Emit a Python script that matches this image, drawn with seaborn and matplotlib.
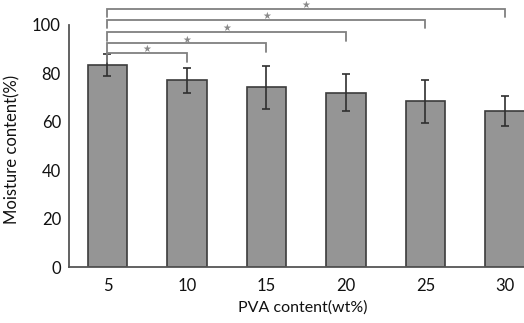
import matplotlib
matplotlib.use("Agg")
import matplotlib.pyplot as plt
import seaborn as sns
import pandas as pd

categories = ["5", "10", "15", "20", "25", "30"]
moisture = [83.5, 77.2, 74.3, 72.0, 68.4, 64.5]
errors = [4.5, 5.2, 8.9, 7.6, 8.9, 6.3]
sig_pairs = [(0, 1), (0, 2), (0, 3), (0, 4), (0, 5)]
sig_heights = [88.3, 92.4, 97.0, 102.1, 106.7]
sig_labels = ["★"] * 5

sns.set_theme(style="white")
plt.rcParams["font.family"] = ["Lato", "DejaVu Sans"]

df = pd.DataFrame({"PVA": categories, "Moisture": moisture})

fig = plt.figure(figsize=(5.24, 3.23), dpi=100)
ax = fig.add_axes([69.3 / 524, 1 - 267 / 323, 1 - 69.3 / 524, 267 / 323])

sns.barplot(data=df, x="PVA", y="Moisture", order=categories, color="#959595",
            saturation=1, width=0.5, edgecolor="#3c3c3c", linewidth=1.2,
            errorbar=None, ax=ax)
ax.errorbar(range(len(categories)), moisture, yerr=errors, fmt="none",
            ecolor="#303030", elinewidth=1.2, capsize=3, capthick=1.2)

ax.set_xlim(-0.48, 5.24)
ax.set_ylim(0, 110.3)
ax.set_yticks([0, 20, 40, 60, 80, 100])
for s in ["top", "right"]:
    ax.spines[s].set_visible(False)
ax.spines["left"].set_bounds(0, 100)
for s in ["left", "bottom"]:
    ax.spines[s].set_color("#555555")
    ax.spines[s].set_linewidth(1.3)
ax.tick_params(axis="y", direction="in", length=4, width=1.1, color="#555555",
               labelsize=12, pad=6, labelcolor="#111111")
ax.tick_params(axis="x", length=0, labelsize=12, pad=8, labelcolor="#111111")
ax.set_xlabel("PVA content(wt%)", fontsize=11.5, color="#111111")
ax.xaxis.set_label_coords(0.514, -0.125)
ax.set_ylabel("Moisture content(%)", fontsize=12, color="#111111")
ax.yaxis.set_label_coords(-0.108, 0.44)

leg = 3.5
for (i, j), h, lab in zip(sig_pairs, sig_heights, sig_labels):
    ax.plot([i, i, j, j], [h - leg, h, h, h - leg], color="#808080", lw=1.3,
            clip_on=False, solid_joinstyle="miter")
    ax.text((i + j) / 2, h + 1.6, lab, ha="center", va="center", fontsize=7,
            color="#8a8a8a", family=["DejaVu Sans"], clip_on=False)

fig.savefig("out.png", dpi=100)
